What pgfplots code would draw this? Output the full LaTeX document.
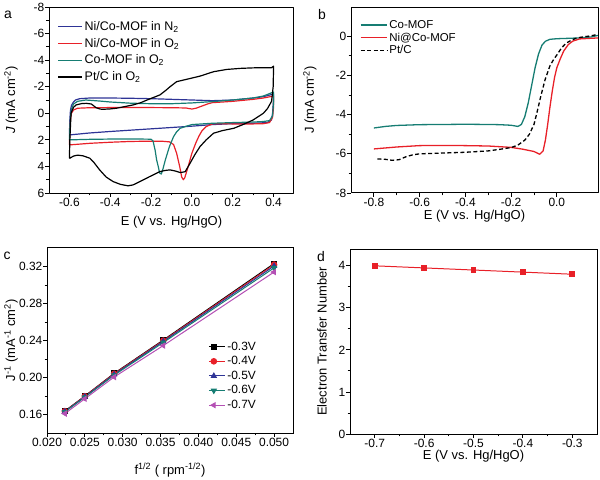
\documentclass[border=0pt]{standalone}
\usepackage{fontspec}
\setmainfont{Liberation Sans}
\usepackage{pgfplots}
\pgfplotsset{compat=1.18}
\definecolor{cblue}{RGB}{46,52,150}
\definecolor{cred}{RGB}{232,32,40}
\definecolor{cteal}{RGB}{22,125,115}
\definecolor{cpurp}{RGB}{180,80,180}
\pgfplotsset{
  myaxis/.style={
    scale only axis, anchor=south west,
    tick align=outside, xtick pos=left, ytick pos=left,
    major tick length=4bp, minor tick length=2.5bp,
    axis line style={line width=1pt},
    every tick/.style={black, line width=0.9pt},
    tick label style={font=\fontsize{12}{13}\selectfont, inner sep=0.5bp},
    /pgf/number format/assume math mode=true,
    scaled ticks=false,
    every axis y label/.style={rotate=90, anchor=center, font=\fontsize{13}{14}\selectfont},
    every axis x label/.style={anchor=center, font=\fontsize{13}{14}\selectfont},
    legend cell align=left,
  }
}
\begin{document}
\begin{tikzpicture}
\path[use as bounding box] (0,0) rectangle (600bp,480bp);
% ---------------- panel a
\begin{axis}[myaxis, at={(49bp,287bp)}, width=245bp, height=186bp,
  xmin=-0.7, xmax=0.5, ymin=-8, ymax=6, y dir=reverse,
  xtick={-0.6,-0.4,-0.2,0.0,0.2,0.4}, ytick={-8,-6,-4,-2,0,2,4,6},
  minor x tick num=1, minor y tick num=1,
  xticklabel style={/pgf/number format/.cd, fixed, fixed zerofill, precision=1},
  xlabel={E (V vs. Hg/HgO)}, ylabel={\textit{J} (mA cm\textsuperscript{-2})},
  xlabel style={at={(axis description cs:0.5,-0.158)}},
  ylabel style={at={(axis description cs:-0.155,0.5)}},
  legend style={draw=none, fill=none, at={(axis description cs:0.034,0.935)}, anchor=north west,
    font=\fontsize{12.5}{13.5}\selectfont, row sep=2.3bp, inner sep=0pt},
  legend image code/.code={\draw[#1] (0bp,0bp) -- (24bp,0bp);},
  line join=round]
\addplot[cblue, line width=1.2pt] coordinates {(-0.6,1.6) (-0.598,0.5) (-0.595,-0.2) (-0.59,-0.6) (-0.58,-0.85) (-0.57,-1.0) (-0.55,-1.1) (-0.5,-1.15) (-0.4,-1.15) (-0.3,-1.13) (-0.2,-1.1) (-0.1,-1.05) (0.0,-1.0) (0.1,-0.95) (0.2,-1.0) (0.3,-1.15) (0.35,-1.25) (0.4,-1.45) (0.4,-1.0) (0.395,0.0) (0.39,0.5) (0.37,0.7) (0.3,0.75) (0.2,0.78) (0.1,0.85) (0.0,0.97) (-0.1,1.07) (-0.2,1.17) (-0.3,1.27) (-0.4,1.37) (-0.5,1.48) (-0.6,1.63)};
\addlegendentry{Ni/Co-MOF in N\textsubscript{2}}
\addplot[cred, line width=1.2pt] coordinates {(-0.6,2.38) (-0.598,1.5) (-0.595,0.5) (-0.59,0.0) (-0.58,-0.25) (-0.56,-0.38) (-0.5,-0.42) (-0.4,-0.43) (-0.3,-0.43) (-0.2,-0.43) (-0.1,-0.42) (-0.03,-0.4) (0.0,-0.32) (0.02,-0.38) (0.05,-0.55) (0.08,-0.72) (0.1,-0.8) (0.2,-0.9) (0.3,-1.05) (0.35,-1.15) (0.4,-1.3) (0.4,-0.5) (0.395,0.3) (0.38,0.7) (0.35,0.78) (0.3,0.8) (0.2,0.8) (0.12,0.78) (0.1,0.8) (0.07,1.0) (0.05,1.3) (0.035,1.7) (0.02,2.2) (0.0,3.0) (-0.02,4.1) (-0.035,4.85) (-0.042,5.0) (-0.05,4.8) (-0.06,4.0) (-0.075,3.0) (-0.09,2.35) (-0.11,2.15) (-0.15,2.1) (-0.2,2.1) (-0.3,2.12) (-0.4,2.18) (-0.5,2.26) (-0.6,2.38)};
\addlegendentry{Ni/Co-MOF in O\textsubscript{2}}
\addplot[cteal, line width=1.2pt] coordinates {(-0.6,2.0) (-0.598,1.2) (-0.595,0.3) (-0.59,-0.3) (-0.58,-0.7) (-0.56,-0.9) (-0.52,-1.0) (-0.45,-0.92) (-0.4,-0.85) (-0.3,-0.76) (-0.2,-0.72) (-0.1,-0.72) (0.0,-0.78) (0.1,-0.88) (0.2,-1.0) (0.3,-1.15) (0.35,-1.3) (0.4,-1.6) (0.4,-0.8) (0.395,0.2) (0.38,0.55) (0.35,0.62) (0.3,0.66) (0.2,0.7) (0.1,0.75) (0.0,0.85) (-0.025,0.96) (-0.058,1.13) (-0.075,1.4) (-0.09,1.76) (-0.11,2.5) (-0.13,3.5) (-0.142,4.2) (-0.15,4.57) (-0.158,4.5) (-0.165,4.0) (-0.173,3.5) (-0.18,2.8) (-0.19,2.1) (-0.2,1.95) (-0.3,1.93) (-0.4,1.94) (-0.5,1.96) (-0.6,2.0)};
\addlegendentry{Co-MOF in O\textsubscript{2}}
\addplot[black, line width=1.2pt] coordinates {(-0.6,3.4) (-0.598,2.0) (-0.595,1.0) (-0.592,0.0) (-0.58,-0.45) (-0.567,-0.63) (-0.54,-0.73) (-0.518,-0.75) (-0.493,-0.7) (-0.469,-0.42) (-0.45,-0.32) (-0.436,-0.3) (-0.4,-0.33) (-0.37,-0.38) (-0.33,-0.5) (-0.288,-0.63) (-0.25,-0.8) (-0.22,-1.0) (-0.157,-1.38) (-0.13,-1.7) (-0.107,-2.0) (-0.075,-2.38) (-0.025,-2.56) (0.04,-2.8) (0.106,-3.13) (0.17,-3.3) (0.237,-3.38) (0.3,-3.42) (0.39,-3.43) (0.4,-3.55) (0.398,-2.0) (0.39,-0.9) (0.37,-0.35) (0.35,0.0) (0.3,0.5) (0.25,0.85) (0.205,1.13) (0.15,1.3) (0.106,1.5) (0.07,2.0) (0.04,2.5) (0.015,3.1) (-0.009,3.76) (-0.033,4.4) (-0.058,4.46) (-0.08,4.35) (-0.107,4.26) (-0.13,4.3) (-0.157,4.39) (-0.206,4.76) (-0.25,5.1) (-0.288,5.39) (-0.313,5.46) (-0.35,5.35) (-0.386,5.14) (-0.42,4.8) (-0.452,4.26) (-0.48,3.7) (-0.5,3.38) (-0.534,3.2) (-0.56,3.15) (-0.58,3.22) (-0.6,3.4)};
\addlegendentry{Pt/C in O\textsubscript{2}}
\end{axis}
% ---------------- panel b
\begin{axis}[myaxis, at={(351bp,287bp)}, width=247bp, height=186bp,
  xmin=-0.9, xmax=0.18, ymin=-8, ymax=1.5,
  xtick={-0.8,-0.6,-0.4,-0.2,0.0}, ytick={-8,-6,-4,-2,0},
  minor x tick num=1, minor y tick num=1,
  xticklabel style={/pgf/number format/.cd, fixed, fixed zerofill, precision=1},
  xlabel={E (V vs. Hg/HgO)}, ylabel={J (mA cm\textsuperscript{-2})},
  xlabel style={at={(axis description cs:0.5,-0.122)}},
  ylabel style={at={(axis description cs:-0.166,0.5)}},
  legend style={draw=none, fill=none, at={(axis description cs:0.036,0.94)}, anchor=north west,
    font=\fontsize{11.5}{12}\selectfont, row sep=-1bp, inner sep=0pt},
  legend image code/.code={\draw[#1] (0bp,0bp) -- (26bp,0bp);},
  line join=round]
\addplot[cteal, line width=1.3pt] coordinates {(-0.8,-4.68) (-0.75,-4.6) (-0.7,-4.55) (-0.6,-4.51) (-0.5,-4.5) (-0.4,-4.49) (-0.3,-4.5) (-0.25,-4.51) (-0.2,-4.54) (-0.17,-4.6) (-0.155,-4.5) (-0.14,-4.1) (-0.125,-3.4) (-0.11,-2.5) (-0.095,-1.6) (-0.08,-0.9) (-0.065,-0.45) (-0.05,-0.25) (-0.03,-0.15) (0.0,-0.12) (0.05,-0.1) (0.1,-0.08) (0.15,-0.03) (0.18,0.05)};
\addlegendentry{Co-MOF}
\addplot[cred, line width=1.3pt] coordinates {(-0.8,-5.75) (-0.7,-5.65) (-0.6,-5.58) (-0.5,-5.57) (-0.4,-5.58) (-0.3,-5.6) (-0.2,-5.67) (-0.15,-5.76) (-0.1,-5.88) (-0.075,-6.02) (-0.06,-5.85) (-0.05,-5.3) (-0.04,-4.5) (-0.03,-3.6) (-0.02,-2.8) (-0.01,-2.1) (0.0,-1.6) (0.015,-1.15) (0.03,-0.75) (0.05,-0.42) (0.07,-0.24) (0.1,-0.13) (0.18,-0.08)};
\addlegendentry{Ni@Co-MOF}
\addplot[black, line width=1.3pt, dash pattern=on 4pt off 2.5pt] coordinates {(-0.785,-6.26) (-0.75,-6.28) (-0.72,-6.33) (-0.69,-6.3) (-0.66,-6.15) (-0.63,-6.05) (-0.6,-6.0) (-0.5,-5.96) (-0.4,-5.92) (-0.3,-5.85) (-0.25,-5.77) (-0.2,-5.68) (-0.17,-5.55) (-0.14,-5.3) (-0.12,-5.0) (-0.1,-4.5) (-0.087,-3.9) (-0.07,-3.05) (-0.051,-2.2) (-0.03,-1.5) (-0.015,-1.2) (0.0,-0.95) (0.02,-0.6) (0.04,-0.35) (0.06,-0.22) (0.087,-0.08) (0.12,-0.02) (0.15,0.03) (0.18,0.1)};
\addlegendentry{Pt/C}
\end{axis}
% ---------------- panel c
\begin{axis}[myaxis, at={(47bp,47bp)}, width=246bp, height=185bp,
  xmin=0.020, xmax=0.0525, ymin=0.14, ymax=0.34,
  xtick={0.020,0.025,0.030,0.035,0.040,0.045,0.050}, ytick={0.16,0.20,0.24,0.28,0.32},
  minor x tick num=1, minor y tick num=1,
  xticklabel style={/pgf/number format/.cd, fixed, fixed zerofill, precision=3},
  yticklabel style={/pgf/number format/.cd, fixed, fixed zerofill, precision=2},
  xlabel={f\textsuperscript{1/2} ( rpm\textsuperscript{-1/2})},
  ylabel={J\textsuperscript{-1} (mA\textsuperscript{-1} cm\textsuperscript{2})},
  xlabel style={at={(axis description cs:0.5,-0.2)}},
  ylabel style={at={(axis description cs:-0.146,0.5)}},
  legend style={draw=none, fill=none, at={(axis description cs:0.655,0.505)}, anchor=north west,
    font=\fontsize{12}{13}\selectfont, row sep=0.8bp, inner sep=0pt},
  legend image code/.code={\path (0bp,0bp) -- (16bp,0bp); \draw[#1, only marks] plot coordinates {(5bp,0bp)};},
  mark size=2.8pt]
\addplot[black, line width=1pt, mark=square*, mark size=2.5pt] coordinates {(0.02236,0.1638) (0.025,0.1800) (0.02887,0.2045) (0.03536,0.2405) (0.05,0.3232)};
\addlegendentry{-0.3V}
\addplot[cred, line width=1pt, mark=*] coordinates {(0.02236,0.1635) (0.025,0.1797) (0.02887,0.2040) (0.03536,0.2398) (0.05,0.3220)};
\addlegendentry{-0.4V}
\addplot[cblue, line width=1pt, mark=triangle*] coordinates {(0.02236,0.1632) (0.025,0.1792) (0.02887,0.2033) (0.03536,0.2390) (0.05,0.3205)};
\addlegendentry{-0.5V}
\addplot[cteal, line width=1pt, mark=triangle*, mark options={rotate=180}] coordinates {(0.02236,0.1628) (0.025,0.1787) (0.02887,0.2025) (0.03536,0.2378) (0.05,0.3185)};
\addlegendentry{-0.6V}
\addplot[cpurp, line width=1pt, mark=triangle*, mark options={rotate=90}] coordinates {(0.02236,0.1610) (0.025,0.1770) (0.02887,0.2005) (0.03536,0.2345) (0.05,0.3140)};
\addlegendentry{-0.7V}
\end{axis}
% ---------------- panel d
\begin{axis}[myaxis, at={(350bp,46bp)}, width=247bp, height=185bp,
  xmin=-0.75, xmax=-0.25, ymin=0, ymax=4.4,
  xtick={-0.7,-0.6,-0.5,-0.4,-0.3}, ytick={0,1,2,3,4},
  minor x tick num=1, minor y tick num=1,
  xticklabel style={/pgf/number format/.cd, fixed, fixed zerofill, precision=1},
  xlabel={E (V vs. Hg/HgO)}, ylabel={Electron Transfer Number},
  xlabel style={at={(axis description cs:0.5,-0.122)}},
  ylabel style={at={(axis description cs:-0.113,0.5)}}]
\addplot[cred, line width=1pt, mark=square*, mark size=2.4pt] coordinates {(-0.7,4.0) (-0.6,3.95) (-0.5,3.9) (-0.4,3.85) (-0.3,3.8)};
\end{axis}
\node[font=\fontsize{14}{15}\selectfont] at (8bp,465bp) {a};
\node[font=\fontsize{14}{15}\selectfont] at (322bp,465bp) {b};
\node[font=\fontsize{14}{15}\selectfont] at (7bp,224bp) {c};
\node[font=\fontsize{14}{15}\selectfont] at (321bp,223bp) {d};
\end{tikzpicture}
\end{document}
